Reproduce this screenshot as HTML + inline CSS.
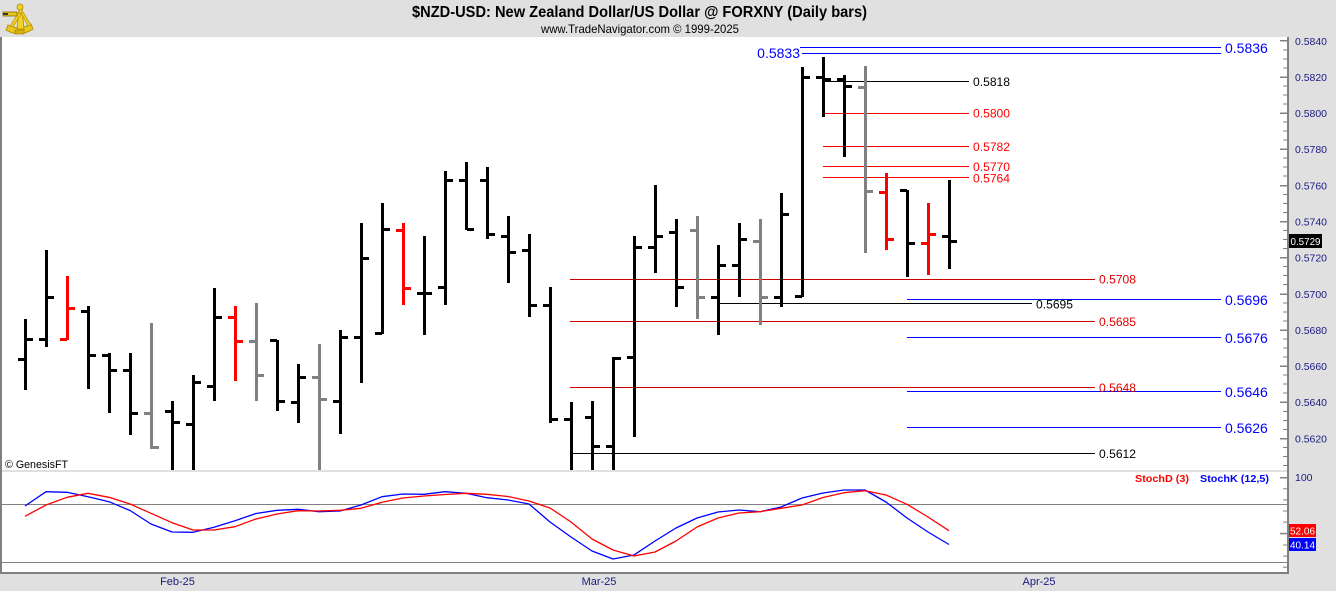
<!DOCTYPE html>
<html>
<head>
<meta charset="utf-8">
<style>
html,body{margin:0;padding:0;background:#e0e0e0;overflow:hidden;}
svg{display:block;}
text{font-family:"Liberation Sans",Arial,sans-serif;}
</style>
</head>
<body>
<svg width="1336" height="591" viewBox="0 0 1336 591" xmlns="http://www.w3.org/2000/svg">
<defs>
<clipPath id="pc"><rect x="2" y="37" width="1286" height="433"/></clipPath>
<clipPath id="sc"><rect x="2" y="472" width="1286" height="100"/></clipPath>
</defs>
<rect x="0" y="0" width="1336" height="591" fill="#e0e0e0"/>
<rect x="0" y="37" width="1288" height="433" fill="#ffffff"/>
<rect x="0" y="472" width="1288" height="100" fill="#ffffff"/>
<rect x="0" y="470" width="1288" height="2" fill="#e0e0e0"/>
<rect x="0" y="37" width="2" height="536" fill="#808080"/>
<rect x="0" y="572" width="1289" height="2" fill="#808080"/>
<rect x="1287" y="37" width="2" height="537" fill="#808080"/>

<!-- logo -->
<g>
<path d="M6 30 Q19 38 33 29 L31 24 Q19 31 8 25 Z" fill="#e8c818" stroke="#b08a00" stroke-width="0.8"/>
<path d="M17 29 L19 9 L22 9 L24 29 Z" fill="#f2d428" stroke="#b08a00" stroke-width="0.8"/>
<path d="M10 26 L19 12 L21 14 L13 27 Z" fill="#f0cc20" stroke="#b08a00" stroke-width="0.6"/>
<path d="M28 26 L21 13 L23 12 L31 25 Z" fill="#f0cc20" stroke="#b08a00" stroke-width="0.6"/>
<rect x="3" y="12" width="14" height="4" fill="#e8c818" stroke="#8a6a00" stroke-width="0.8"/>
<rect x="3" y="13" width="5" height="2" fill="#333"/>
<circle cx="20" cy="7" r="3" fill="#f2d428" stroke="#b08a00" stroke-width="0.8"/>
<rect x="15" y="30" width="9" height="4" fill="#d8b010" stroke="#a07800" stroke-width="0.6"/>
</g>

<text x="639.5" y="17" font-size="16" font-weight="bold" text-anchor="middle" fill="#000" textLength="455" lengthAdjust="spacingAndGlyphs">$NZD-USD:  New Zealand Dollar/US Dollar @ FORXNY  (Daily bars)</text>
<text x="640" y="33" font-size="12" text-anchor="middle" fill="#000" textLength="198" lengthAdjust="spacingAndGlyphs">www.TradeNavigator.com © 1999-2025</text>

<!-- price axis ticks -->
<g fill="#808080">
<rect x="1280" y="40" width="7" height="1.5"/>
<rect x="1283" y="49.5" width="4" height="1"/><rect x="1283" y="58.5" width="4" height="1"/><rect x="1283" y="67.5" width="4" height="1"/>
<rect x="1280" y="76.5" width="7" height="1.5"/>
<rect x="1283" y="85.5" width="4" height="1"/><rect x="1283" y="94.5" width="4" height="1"/><rect x="1283" y="103.5" width="4" height="1"/>
<rect x="1280" y="112.5" width="7" height="1.5"/>
<rect x="1283" y="121.5" width="4" height="1"/><rect x="1283" y="130.5" width="4" height="1"/><rect x="1283" y="139.5" width="4" height="1"/>
<rect x="1280" y="148.5" width="7" height="1.5"/>
<rect x="1283" y="157.5" width="4" height="1"/><rect x="1283" y="166.5" width="4" height="1"/><rect x="1283" y="175.5" width="4" height="1"/>
<rect x="1280" y="185" width="7" height="1.5"/>
<rect x="1283" y="194" width="4" height="1"/><rect x="1283" y="203" width="4" height="1"/><rect x="1283" y="212" width="4" height="1"/>
<rect x="1280" y="221" width="7" height="1.5"/>
<rect x="1283" y="230" width="4" height="1"/><rect x="1283" y="239" width="4" height="1"/><rect x="1283" y="248" width="4" height="1"/>
<rect x="1280" y="257" width="7" height="1.5"/>
<rect x="1283" y="266" width="4" height="1"/><rect x="1283" y="275" width="4" height="1"/><rect x="1283" y="284" width="4" height="1"/>
<rect x="1280" y="293.5" width="7" height="1.5"/>
<rect x="1283" y="302.5" width="4" height="1"/><rect x="1283" y="311.5" width="4" height="1"/><rect x="1283" y="320.5" width="4" height="1"/>
<rect x="1280" y="329.5" width="7" height="1.5"/>
<rect x="1283" y="338.5" width="4" height="1"/><rect x="1283" y="347.5" width="4" height="1"/><rect x="1283" y="356.5" width="4" height="1"/>
<rect x="1280" y="365.5" width="7" height="1.5"/>
<rect x="1283" y="374.5" width="4" height="1"/><rect x="1283" y="383.5" width="4" height="1"/><rect x="1283" y="392.5" width="4" height="1"/>
<rect x="1280" y="401.5" width="7" height="1.5"/>
<rect x="1283" y="411" width="4" height="1"/><rect x="1283" y="420" width="4" height="1"/><rect x="1283" y="429" width="4" height="1"/>
<rect x="1280" y="438" width="7" height="1.5"/>
<rect x="1283" y="447" width="4" height="1"/><rect x="1283" y="456" width="4" height="1"/><rect x="1283" y="465" width="4" height="1"/>
</g>
<g font-size="10.5" fill="#1a1a80">
<text x="1295" y="44.8" textLength="32" lengthAdjust="spacingAndGlyphs">0.5840</text>
<text x="1295" y="80.9" textLength="32" lengthAdjust="spacingAndGlyphs">0.5820</text>
<text x="1295" y="117.1" textLength="32" lengthAdjust="spacingAndGlyphs">0.5800</text>
<text x="1295" y="153.2" textLength="32" lengthAdjust="spacingAndGlyphs">0.5780</text>
<text x="1295" y="189.4" textLength="32" lengthAdjust="spacingAndGlyphs">0.5760</text>
<text x="1295" y="225.5" textLength="32" lengthAdjust="spacingAndGlyphs">0.5740</text>
<text x="1295" y="261.6" textLength="32" lengthAdjust="spacingAndGlyphs">0.5720</text>
<text x="1295" y="297.8" textLength="32" lengthAdjust="spacingAndGlyphs">0.5700</text>
<text x="1295" y="333.9" textLength="32" lengthAdjust="spacingAndGlyphs">0.5680</text>
<text x="1295" y="370.1" textLength="32" lengthAdjust="spacingAndGlyphs">0.5660</text>
<text x="1295" y="406.2" textLength="32" lengthAdjust="spacingAndGlyphs">0.5640</text>
<text x="1295" y="442.4" textLength="32" lengthAdjust="spacingAndGlyphs">0.5620</text>
</g>
<rect x="1289" y="234" width="33" height="14" fill="#000"/>
<text x="1290.5" y="245" font-size="10.5" fill="#fff" textLength="30" lengthAdjust="spacingAndGlyphs">0.5729</text>

<g fill="#808080">
<rect x="1280" y="477" width="7" height="1.5"/>
<rect x="1283" y="488.3" width="4" height="1"/><rect x="1283" y="499.4" width="4" height="1"/><rect x="1283" y="510.5" width="4" height="1"/><rect x="1283" y="521.6" width="4" height="1"/>
<rect x="1280" y="532.8" width="7" height="1.5"/>
<rect x="1283" y="544.5" width="4" height="1"/><rect x="1283" y="555.6" width="4" height="1"/><rect x="1283" y="566.7" width="4" height="1"/>
</g>
<text x="1295" y="481" font-size="10.5" fill="#1a1a80">100</text>
<rect x="1289" y="524" width="27" height="13" fill="#ff0000"/>
<text x="1290" y="534.5" font-size="10.5" fill="#fff" textLength="25" lengthAdjust="spacingAndGlyphs">52.06</text>
<rect x="1289" y="538" width="27" height="13" fill="#0000ff"/>
<text x="1290" y="548.5" font-size="10.5" fill="#fff" textLength="25" lengthAdjust="spacingAndGlyphs">40.14</text>

<g font-size="11" fill="#1a1a80" text-anchor="middle">
<text x="177.5" y="585">Feb-25</text>
<text x="599" y="585">Mar-25</text>
<text x="1039" y="585">Apr-25</text>
</g>

<!-- horizontal level lines (as 1px rects) -->
<rect x="800" y="47" width="421" height="1" fill="#0000ff"/>
<rect x="802" y="53" width="419" height="1" fill="#0000ff"/>
<rect x="823" y="81" width="146" height="1" fill="#000000"/>
<rect x="823" y="113" width="146" height="1" fill="#ff0000"/>
<rect x="823" y="146" width="146" height="1" fill="#ff0000"/>
<rect x="823" y="166" width="146" height="1" fill="#ff0000"/>
<rect x="823" y="177" width="146" height="1" fill="#ff0000"/>
<rect x="570" y="279" width="525" height="1" fill="#cc0000"/>
<rect x="907" y="299" width="314" height="1" fill="#0000ff"/>
<rect x="719" y="303" width="313" height="1" fill="#000000"/>
<rect x="570" y="321" width="525" height="1" fill="#cc0000"/>
<rect x="907" y="337" width="314" height="1" fill="#0000ff"/>
<rect x="570" y="387" width="525" height="1" fill="#cc0000"/>
<rect x="907" y="391" width="314" height="1" fill="#0000ff"/>
<rect x="907" y="427" width="314" height="1" fill="#0000ff"/>
<rect x="572" y="453" width="523" height="1" fill="#000000"/>

<g font-size="14" fill="#0000ff">
<text x="800" y="58" text-anchor="end">0.5833</text>
<text x="1225" y="53">0.5836</text>
<text x="1225" y="305">0.5696</text>
<text x="1225" y="343">0.5676</text>
<text x="1225" y="397">0.5646</text>
<text x="1225" y="433">0.5626</text>
</g>
<g font-size="12">
<text x="973" y="86" fill="#000" textLength="37" lengthAdjust="spacingAndGlyphs">0.5818</text>
<text x="973" y="117.5" fill="#ff0000" textLength="37" lengthAdjust="spacingAndGlyphs">0.5800</text>
<text x="973" y="151" fill="#ff0000" textLength="37" lengthAdjust="spacingAndGlyphs">0.5782</text>
<text x="973" y="171" fill="#ff0000" textLength="37" lengthAdjust="spacingAndGlyphs">0.5770</text>
<text x="973" y="182.5" fill="#ff0000" textLength="37" lengthAdjust="spacingAndGlyphs">0.5764</text>
<text x="1099" y="283.5" fill="#e00000" textLength="37" lengthAdjust="spacingAndGlyphs">0.5708</text>
<text x="1036" y="308.5" fill="#000" textLength="37" lengthAdjust="spacingAndGlyphs">0.5695</text>
<text x="1099" y="326" fill="#e00000" textLength="37" lengthAdjust="spacingAndGlyphs">0.5685</text>
<text x="1099" y="392" fill="#e00000" textLength="37" lengthAdjust="spacingAndGlyphs">0.5648</text>
<text x="1099" y="458" fill="#000" textLength="37" lengthAdjust="spacingAndGlyphs">0.5612</text>
</g>

<!-- price bars -->
<g clip-path="url(#pc)" shape-rendering="crispEdges">
<g fill="#000">
<rect x="24" y="319" width="3" height="71"/><rect x="18" y="358" width="7" height="3"/><rect x="26" y="338" width="7" height="3"/>
<rect x="45" y="250" width="3" height="97"/><rect x="39" y="338" width="7" height="3"/><rect x="47" y="296" width="7" height="3"/>
<rect x="87" y="306" width="3" height="83"/><rect x="81" y="310" width="7" height="3"/><rect x="89" y="354" width="7" height="3"/>
<rect x="108" y="353" width="3" height="60"/><rect x="102" y="354" width="7" height="3"/><rect x="110" y="369" width="7" height="3"/>
<rect x="129" y="353" width="3" height="82"/><rect x="123" y="369" width="7" height="3"/><rect x="131" y="412" width="7" height="3"/>
<rect x="171" y="401" width="3" height="74"/><rect x="165" y="410" width="7" height="3"/><rect x="173" y="421" width="7" height="3"/>
<rect x="192" y="375" width="3" height="100"/><rect x="186" y="423" width="7" height="3"/><rect x="194" y="381" width="7" height="3"/>
<rect x="213" y="288" width="3" height="113"/><rect x="207" y="385" width="7" height="3"/><rect x="215" y="316" width="7" height="3"/>
<rect x="276" y="340" width="3" height="71"/><rect x="270" y="339" width="7" height="3"/><rect x="278" y="400" width="7" height="3"/>
<rect x="297" y="364" width="3" height="59"/><rect x="291" y="401" width="7" height="3"/><rect x="299" y="376" width="7" height="3"/>
<rect x="339" y="330" width="3" height="104"/><rect x="333" y="400" width="7" height="3"/><rect x="341" y="336" width="7" height="3"/>
<rect x="360" y="223" width="3" height="160"/><rect x="354" y="336" width="7" height="3"/><rect x="362" y="257" width="7" height="3"/>
<rect x="381" y="203" width="3" height="131"/><rect x="375" y="332" width="7" height="3"/><rect x="383" y="228" width="7" height="3"/>
<rect x="423" y="236" width="3" height="99"/><rect x="417" y="292" width="7" height="3"/><rect x="425" y="292" width="7" height="3"/>
<rect x="444" y="171" width="3" height="134"/><rect x="438" y="286" width="7" height="3"/><rect x="446" y="179" width="7" height="3"/>
<rect x="465" y="162" width="3" height="68"/><rect x="459" y="179" width="7" height="3"/><rect x="467" y="228" width="7" height="3"/>
<rect x="486" y="167" width="3" height="72"/><rect x="480" y="179" width="7" height="3"/><rect x="488" y="233" width="7" height="3"/>
<rect x="507" y="216" width="3" height="67"/><rect x="501" y="235" width="7" height="3"/><rect x="509" y="251" width="7" height="3"/>
<rect x="528" y="234" width="3" height="83"/><rect x="522" y="249" width="7" height="3"/><rect x="530" y="304" width="7" height="3"/>
<rect x="549" y="287" width="3" height="136"/><rect x="543" y="304" width="7" height="3"/><rect x="551" y="418" width="7" height="3"/>
<rect x="570" y="402" width="3" height="73"/><rect x="564" y="418" width="7" height="3"/>
<rect x="591" y="401" width="3" height="74"/><rect x="585" y="416" width="7" height="3"/><rect x="593" y="445" width="7" height="3"/>
<rect x="612" y="357" width="3" height="118"/><rect x="606" y="445" width="7" height="3"/><rect x="614" y="357" width="7" height="3"/>
<rect x="633" y="236" width="3" height="201"/><rect x="627" y="356" width="7" height="3"/><rect x="635" y="246" width="7" height="3"/>
<rect x="654" y="185" width="3" height="88"/><rect x="648" y="246" width="7" height="3"/><rect x="656" y="235" width="7" height="3"/>
<rect x="675" y="219" width="3" height="88"/><rect x="669" y="231" width="7" height="3"/><rect x="677" y="286" width="7" height="3"/>
<rect x="717" y="245" width="3" height="90"/><rect x="711" y="296" width="7" height="3"/><rect x="719" y="264" width="7" height="3"/>
<rect x="738" y="223" width="3" height="74"/><rect x="732" y="264" width="7" height="3"/><rect x="740" y="238" width="7" height="3"/>
<rect x="780" y="193" width="3" height="114"/><rect x="774" y="296" width="7" height="3"/><rect x="782" y="213" width="7" height="3"/>
<rect x="801" y="67" width="3" height="230"/><rect x="795" y="295" width="7" height="3"/><rect x="803" y="76" width="7" height="3"/>
<rect x="822" y="57" width="3" height="60"/><rect x="816" y="76" width="7" height="3"/><rect x="824" y="78" width="7" height="3"/>
<rect x="843" y="75" width="3" height="82"/><rect x="837" y="78" width="7" height="3"/><rect x="845" y="85" width="7" height="3"/>
<rect x="906" y="190" width="3" height="87"/><rect x="900" y="189" width="7" height="3"/><rect x="908" y="242" width="7" height="3"/>
<rect x="948" y="180" width="3" height="89"/><rect x="942" y="235" width="7" height="3"/><rect x="950" y="240" width="7" height="3"/>
</g>
<g fill="#ff0000">
<rect x="66" y="276" width="3" height="64"/><rect x="60" y="338" width="7" height="3"/><rect x="68" y="307" width="7" height="3"/>
<rect x="234" y="306" width="3" height="75"/><rect x="228" y="316" width="7" height="3"/><rect x="236" y="340" width="7" height="3"/>
<rect x="402" y="223" width="3" height="82"/><rect x="396" y="229" width="7" height="3"/><rect x="404" y="287" width="7" height="3"/>
<rect x="885" y="173" width="3" height="77"/><rect x="879" y="191" width="7" height="3"/><rect x="887" y="238" width="7" height="3"/>
<rect x="927" y="203" width="3" height="72"/><rect x="921" y="242" width="7" height="3"/><rect x="929" y="233" width="7" height="3"/>
</g>
<g fill="#808080">
<rect x="150" y="323" width="3" height="126"/><rect x="144" y="412" width="7" height="3"/><rect x="152" y="446" width="7" height="3"/>
<rect x="255" y="303" width="3" height="98"/><rect x="249" y="340" width="7" height="3"/><rect x="257" y="374" width="7" height="3"/>
<rect x="318" y="344" width="3" height="131"/><rect x="312" y="376" width="7" height="3"/><rect x="320" y="398" width="7" height="3"/>
<rect x="696" y="216" width="3" height="103"/><rect x="690" y="229" width="7" height="3"/><rect x="698" y="296" width="7" height="3"/>
<rect x="759" y="219" width="3" height="106"/><rect x="753" y="240" width="7" height="3"/><rect x="761" y="296" width="7" height="3"/>
<rect x="864" y="66" width="3" height="187"/><rect x="858" y="86" width="7" height="3"/><rect x="866" y="190" width="7" height="3"/>
</g>
</g>

<text x="5" y="468" font-size="11" fill="#000" textLength="63" lengthAdjust="spacingAndGlyphs">© GenesisFT</text>

<!-- stoch pane -->
<rect x="2" y="504" width="1285" height="1" fill="#808080"/>
<rect x="2" y="562" width="1285" height="1" fill="#808080"/>
<g font-size="10.5" font-weight="bold">
<text x="1135" y="482" fill="#ff0000" textLength="54" lengthAdjust="spacingAndGlyphs">StochD (3)</text>
<text x="1200" y="482" fill="#0000ff" textLength="69" lengthAdjust="spacingAndGlyphs">StochK (12,5)</text>
</g>
<g clip-path="url(#sc)" fill="none" stroke-width="1.3" stroke-linejoin="round">
<polyline stroke="#0000ff" points="25,506 46,491.7 67,492.3 88,496.7 109,501.7 130,510.5 151,524 172,532 193,532.3 214,527.3 235,520.7 256,513.5 277,510.3 298,509.3 319,511.7 340,511 361,505 382,496.7 403,494 424,494.3 445,491.7 466,493.3 487,497.7 508,500 529,504 550,522 571,537 592,551 613,559 634,555 655,541 676,528 697,518 718,512 739,510 760,511.7 781,507 802,498 823,493 844,490 865,490 886,502 907,518 928,532 949,544.5"/>
<polyline stroke="#ff0000" points="25,516.3 46,505 67,497.3 88,493.3 109,497.3 130,504 151,513.3 172,522.7 193,530 214,530 235,526.7 256,519 277,514 298,510.7 319,511 340,510.3 361,508.3 382,502.3 403,498 424,496 445,494.5 466,493.3 487,494.3 508,496.5 529,501 550,508 571,522 592,539 613,550 634,556 655,552 676,541 697,527 718,518 739,513 760,511.7 781,508.3 802,505 823,497.5 844,492.7 865,490.7 886,495 907,504.3 928,517 949,530.7"/>
</g>
</svg>
</body>
</html>
